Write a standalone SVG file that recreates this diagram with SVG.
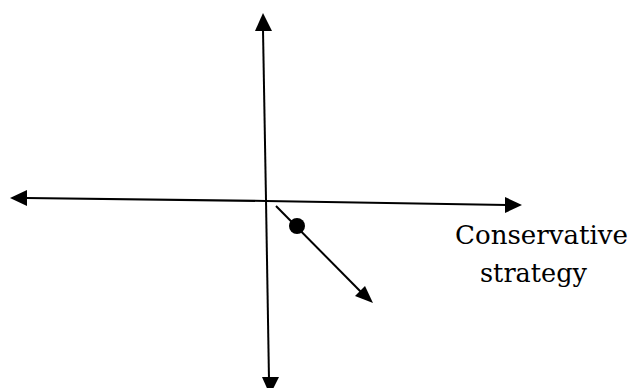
<svg xmlns="http://www.w3.org/2000/svg" width="634" height="388" viewBox="0 0 634 388">
<style>
.ax{stroke:#000;stroke-width:2;fill:none}
.head{fill:#000}
.lbl{font-family:"DejaVu Serif",serif;font-size:26.5px;fill:#000}
</style>
<rect width="634" height="388" fill="#fff"/>
<g id="connectors">
<path class="ax" d="M266,200 L263,30"/>
<polygon class="head" points="263,13 255,31 272,31"/>
<path class="ax" d="M266,200 L269,380"/>
<polygon class="head" points="270,395 262,377 279,377"/>
<path class="ax" d="M266,201 L26,198"/>
<polygon class="head" points="10,198 27,190 27,206"/>
<path class="ax" d="M266,201 L507,205"/>
<polygon class="head" points="522,205 505,197 505,213"/>
<path class="ax" d="M276,206 L362,293"/>
<polygon class="head" points="373,303 355,296 365,286"/>
</g>
<g id="dot">
<circle cx="297" cy="226" r="8" fill="#000"/>
</g>
<g id="label">
<text class="lbl" x="455" y="244" textLength="173" lengthAdjust="spacingAndGlyphs">Conservative</text>
<text class="lbl" x="480" y="282" textLength="107" lengthAdjust="spacingAndGlyphs">strategy</text>
</g>
</svg>
